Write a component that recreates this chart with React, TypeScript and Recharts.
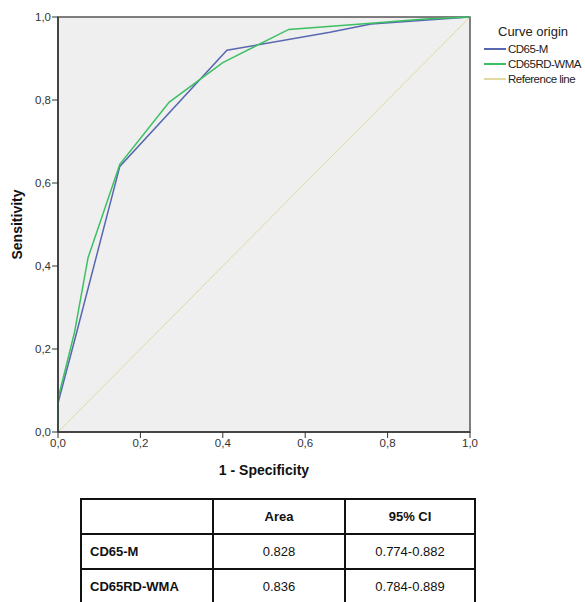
import React from 'react';
import { LineChart, Line, XAxis, YAxis, ReferenceArea, ReferenceLine, Label } from 'recharts';

// ROC curve points (1 - specificity, sensitivity)
const cd65mFpr = [0, 0, 0.04, 0.15, 0.41, 0.66, 0.76, 1];
const cd65mTpr = [0, 0.07, 0.22, 0.64, 0.92, 0.963, 0.983, 1];
const cd65rdFpr = [0, 0, 0.04, 0.073, 0.15, 0.27, 0.4, 0.56, 0.76, 0.89, 1];
const cd65rdTpr = [0, 0.08, 0.24, 0.42, 0.645, 0.795, 0.89, 0.97, 0.985, 0.995, 1];

const ticks = [0, 0.2, 0.4, 0.6, 0.8, 1];

const seriesNames = ['CD65-M', 'CD65RD-WMA'];
const areas = ['0.828', '0.836'];
const cis = ['0.774-0.882', '0.784-0.889'];

const BLUE = '#5867b0';
const GREEN = '#3dbf63';
const REF = '#e0daa0';
const FONT = '"Liberation Sans", Arial, sans-serif';

const toPoints = (xs: number[], ys: number[]) => xs.map((x, i) => ({ x, y: ys[i] }));
const cd65m = toPoints(cd65mFpr, cd65mTpr);
const cd65rd = toPoints(cd65rdFpr, cd65rdTpr);

const fmt = (v: number) => v.toFixed(1).replace('.', ',');

const legendItems = [
  { name: 'CD65-M', color: BLUE },
  { name: 'CD65RD-WMA', color: GREEN },
  { name: 'Reference line', color: REF },
];

const cell: React.CSSProperties = {
  border: '2px solid #111',
  height: 33,
  padding: '0 8px',
  fontSize: 13,
  color: '#111',
};

export default function App() {
  return (
    <div style={{ position: 'absolute', left: 0, top: 0, width: 585, height: 602, background: '#fff', fontFamily: FONT }}>
      <LineChart width={585} height={480} margin={{ top: 17, right: 115, bottom: 0, left: 0 }}>
        <ReferenceArea x1={0} x2={1} y1={0} y2={1} fill="#efefef" fillOpacity={1} stroke="#555" strokeWidth={1.5} />
        <XAxis
          dataKey="x"
          type="number"
          domain={[0, 1]}
          ticks={ticks}
          tickFormatter={fmt}
          height={48}
          tickSize={6}
          tickMargin={1}
          stroke="#333"
          axisLine={{ stroke: '#333', strokeWidth: 1.5 }}
          tick={{ fill: '#333', fontSize: 11.5, fontFamily: FONT }}
          allowDuplicatedCategory={false}
        >
          <Label value="1 - Specificity" position="insideBottom" offset={5} style={{ fontSize: 14, fontWeight: 'bold', fill: '#111', fontFamily: FONT }} />
        </XAxis>
        <YAxis
          type="number"
          domain={[0, 1]}
          ticks={ticks}
          tickFormatter={fmt}
          width={58}
          tickSize={6}
          tickMargin={1}
          stroke="#333"
          axisLine={{ stroke: '#333', strokeWidth: 1.5 }}
          tick={{ fill: '#333', fontSize: 11.5, fontFamily: FONT }}
        >
          <Label value="Sensitivity" angle={-90} position="insideLeft" offset={17} style={{ fontSize: 14, fontWeight: 'bold', fill: '#111', fontFamily: FONT, textAnchor: 'middle' }} />
        </YAxis>
        <ReferenceLine segment={[{ x: 0, y: 0 }, { x: 1, y: 1 }]} stroke={REF} strokeWidth={1} />
        <Line data={cd65m} dataKey="y" name="CD65-M" stroke={BLUE} strokeWidth={1.5} dot={false} isAnimationActive={false} />
        <Line data={cd65rd} dataKey="y" name="CD65RD-WMA" stroke={GREEN} strokeWidth={1.5} dot={false} isAnimationActive={false} />
      </LineChart>

      {/* Legend */}
      <div style={{ position: 'absolute', left: 484, top: 23 }}>
        <div style={{ fontSize: 13, color: '#222', marginLeft: 14, lineHeight: '18px' }}>Curve origin</div>
        {legendItems.map((it) => (
          <div key={it.name} style={{ display: 'flex', alignItems: 'center', height: 15 }}>
            <span style={{ display: 'inline-block', width: 22, height: 2, background: it.color, marginRight: 2 }} />
            <span style={{ fontSize: 11.5, color: '#222', letterSpacing: -0.5 }}>{it.name}</span>
          </div>
        ))}
      </div>

      {/* Area table */}
      <table style={{ position: 'absolute', left: 80, top: 498, width: 396, borderCollapse: 'collapse', fontFamily: FONT }}>
        <tbody>
          <tr>
            <td style={{ ...cell, width: 114 }} />
            <td style={{ ...cell, fontWeight: 'bold', textAlign: 'center', width: 114 }}>Area</td>
            <td style={{ ...cell, fontWeight: 'bold', textAlign: 'center' }}>95% CI</td>
          </tr>
          {seriesNames.map((n, i) => (
            <tr key={n}>
              <td style={{ ...cell, fontWeight: 'bold' }}>{n}</td>
              <td style={{ ...cell, textAlign: 'center' }}>{areas[i]}</td>
              <td style={{ ...cell, textAlign: 'center' }}>{cis[i]}</td>
            </tr>
          ))}
        </tbody>
      </table>
    </div>
  );
}
